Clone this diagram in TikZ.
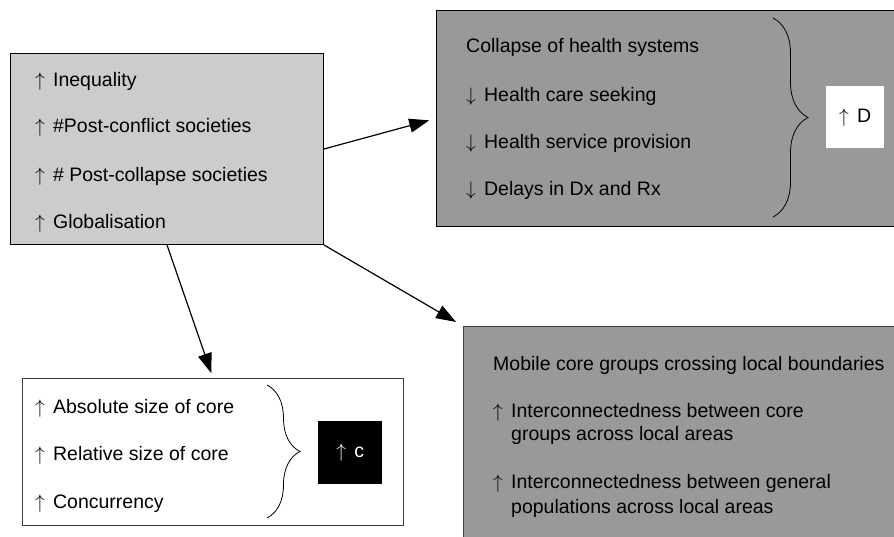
\RequirePackage{fix-cm}
\documentclass[tikz,border=0pt]{standalone}
\usepackage{fontspec}
\setmainfont{Liberation Sans}
\usetikzlibrary{arrows.meta,decorations.pathreplacing}
\definecolor{lightfill}{HTML}{CCCCCC}
\definecolor{darkfill}{HTML}{999999}
\newcommand{\up}{$\uparrow$\hspace{0.42em}}
\newcommand{\down}{$\downarrow$\hspace{0.42em}}
\begin{document}
\begin{tikzpicture}[x=1pt,y=-1pt,
  box/.style={draw, rectangle, anchor=north west, inner sep=0pt, line width=1pt},
  txt/.style={anchor=base west, inner sep=0pt, font=\fontsize{19.5}{22}\selectfont},
  link/.style={line width=1.2pt, -{Triangle[length=20pt,width=14pt]}},
  curly/.style={decorate, decoration={brace, amplitude=#1}, line width=0.8pt}
]
\clip (0,0) rectangle (894,537);
\fill[white] (0,0) rectangle (894,537);

% drivers
\node[box, fill=lightfill, minimum width=313pt, minimum height=191pt] (drivers) at (10,53) {};
\node[txt] (d1) at (35,87)  {\up Inequality};
\node[txt] (d2) at (35,133) {\up \#Post-conflict societies};
\node[txt] (d3) at (35,182) {\up \# Post-collapse societies};
\node[txt] (d4) at (35,229) {\up Globalisation};

% health systems
\node[box, fill=darkfill, minimum width=464pt, minimum height=216pt] (health) at (436,10) {};
\node[txt] (h1) at (466,53)  {Collapse of health systems};
\node[txt] (h2) at (466,102) {\down Health care seeking};
\node[txt] (h3) at (466,149) {\down Health service provision};
\node[txt] (h4) at (466,196) {\down Delays in Dx and Rx};
\draw[curly=35pt] (773,18) -- (773,217);
\node[fill=white, minimum width=58pt, minimum height=62pt, inner sep=0pt, anchor=north west,
      font=\fontsize{19.5}{22}\selectfont] (dur) at (826,86) {\up D};

% core groups
\node[box, draw=black!75, fill=white, minimum width=381pt, minimum height=147pt] (core) at (22,378) {};
\node[txt] (c1) at (35,413) {\up Absolute size of core};
\node[txt] (c2) at (35,460) {\up Relative size of core};
\node[txt] (c3) at (35,508) {\up Concurrency};
\draw[curly=33pt] (267,385) -- (267,518);
\node[fill=black, text=white, minimum width=64pt, minimum height=63pt, inner sep=0pt, anchor=north west,
      font=\fontsize{19.5}{22}\selectfont] (cval) at (318,421) {\up c};

% mobile groups
\node[box, draw=black!75, fill=darkfill, minimum width=437pt, minimum height=219pt] (mobile) at (463,326) {};
\node[txt] (m1) at (493,370) {Mobile core groups crossing local boundaries};
\node[txt] (m2) at (493,417) {\up Interconnectedness between core};
\node[txt] (m3) at (511,440) {groups across local areas};
\node[txt] (m4) at (493,488) {\up Interconnectedness between general};
\node[txt] (m5) at (511,513) {populations across local areas};

% links
\draw[link, shorten >=7pt] (drivers.east) -- (health.west);
\draw[link, shorten >=5pt] (drivers.south) -- (core.north);
\draw[link, shorten >=8pt] (drivers.south east) -- (mobile.north west);
\end{tikzpicture}
\end{document}
